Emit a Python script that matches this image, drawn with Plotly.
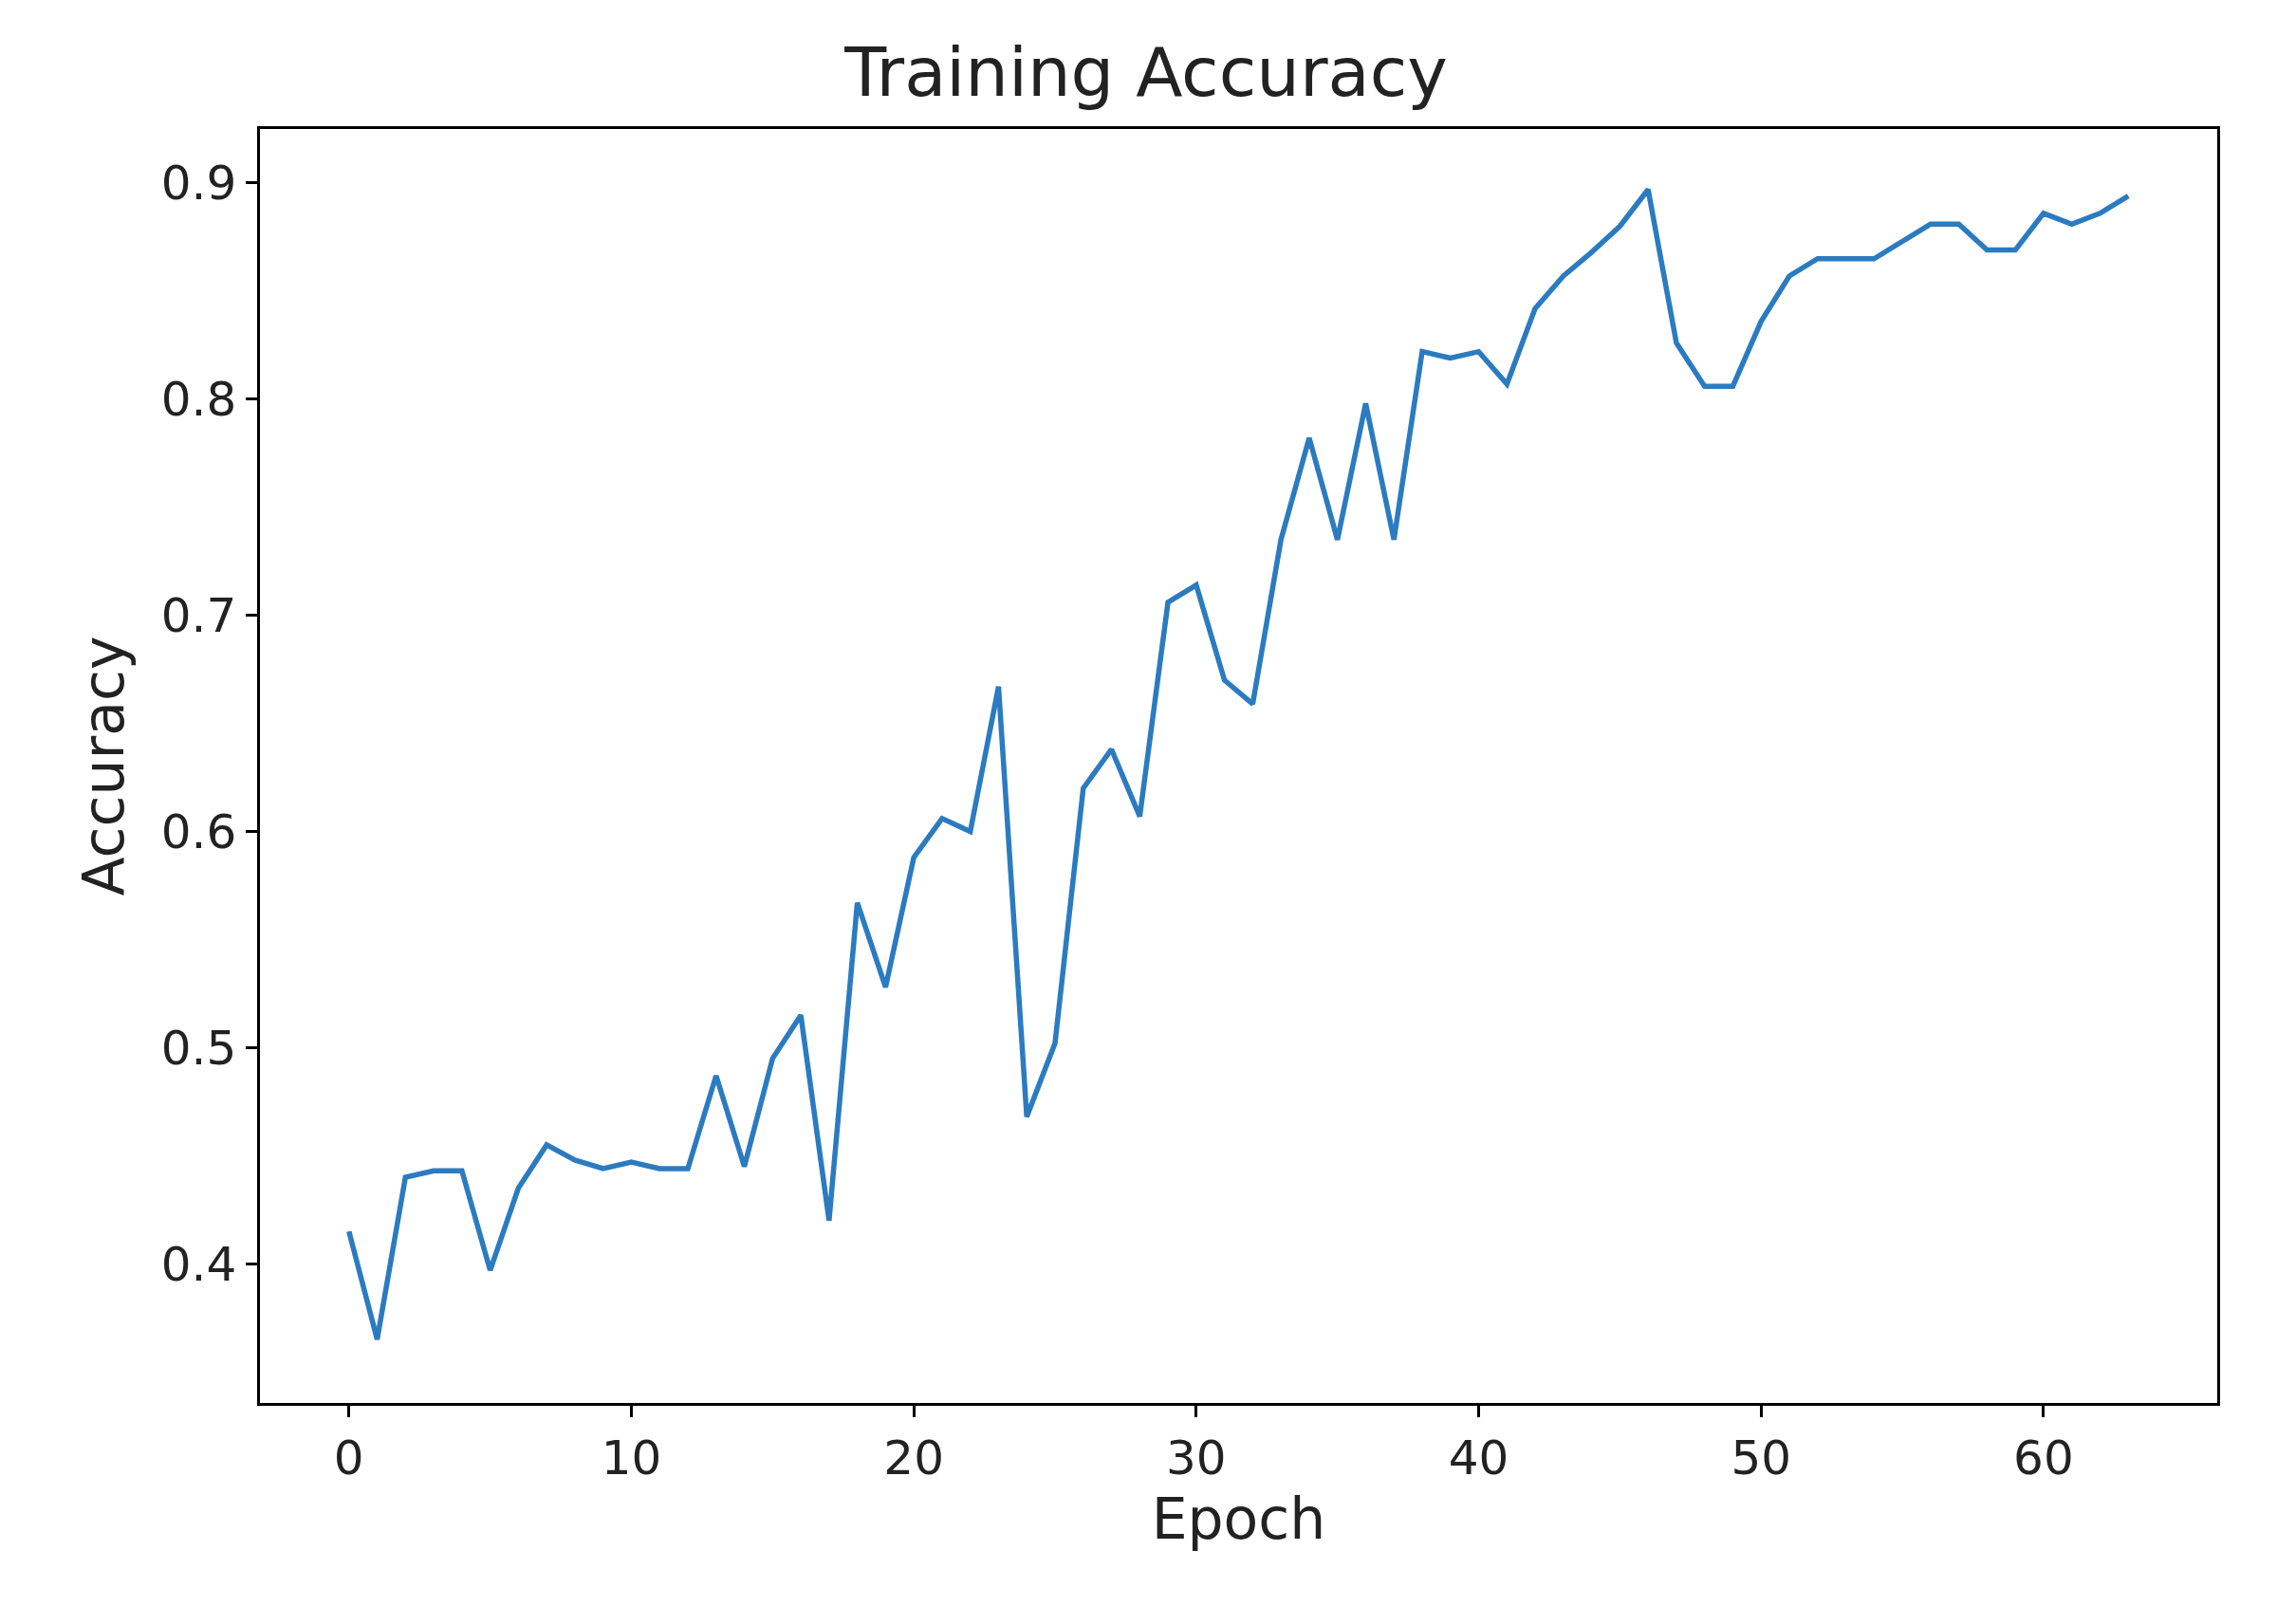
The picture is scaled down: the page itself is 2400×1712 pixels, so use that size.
import plotly.graph_objects as go

epochs = list(range(64))
accuracy = [0.415, 0.365, 0.44, 0.443, 0.443, 0.397, 0.435, 0.455, 0.448, 0.444,
            0.447, 0.444, 0.444, 0.487, 0.445, 0.495, 0.515, 0.42, 0.567, 0.528,
            0.588, 0.606, 0.6, 0.667, 0.468, 0.502, 0.62, 0.638, 0.607, 0.706,
            0.714, 0.67, 0.659, 0.735, 0.782, 0.735, 0.798, 0.735, 0.822, 0.819,
            0.822, 0.807, 0.842, 0.857, 0.868, 0.88, 0.897, 0.826, 0.806, 0.806,
            0.836, 0.857, 0.865, 0.865, 0.865, 0.873, 0.881, 0.881, 0.869, 0.869,
            0.886, 0.881, 0.886, 0.894]
xticks = [0, 10, 20, 30, 40, 50, 60]
yticks = [0.4, 0.5, 0.6, 0.7, 0.8, 0.9]

fig = go.Figure(go.Scatter(x=epochs, y=accuracy, mode="lines",
                           line=dict(color="#2b7bc0", width=5.5)))
font = "DejaVu Sans"
axis_common = dict(showgrid=False, zeroline=False, showline=True, mirror=True,
                   linecolor="black", linewidth=2.5, ticks="outside", ticklen=12,
                   tickwidth=2.5, tickcolor="black",
                   tickfont=dict(family=font, size=50, color="#222"))
fig.update_xaxes(range=[-3.15, 66.15], tickvals=xticks,
                 title=dict(text="Epoch", font=dict(family=font, size=60, color="#222"), standoff=15),
                 **axis_common)
fig.update_yaxes(range=[0.3356, 0.925], tickvals=yticks, tickformat=".1f",
                 title=dict(text="Accuracy", font=dict(family=font, size=60, color="#222"), standoff=20),
                 **axis_common)
fig.update_layout(width=2400, height=1712, plot_bgcolor="white", paper_bgcolor="white",
                  margin=dict(l=266, r=71, t=128, b=241), showlegend=False,
                  title=dict(text="Training Accuracy", x=0.5, xanchor="center",
                             y=0.975, yanchor="top",
                             font=dict(family=font, size=72, color="#222")))
fig.write_html("out.html")
